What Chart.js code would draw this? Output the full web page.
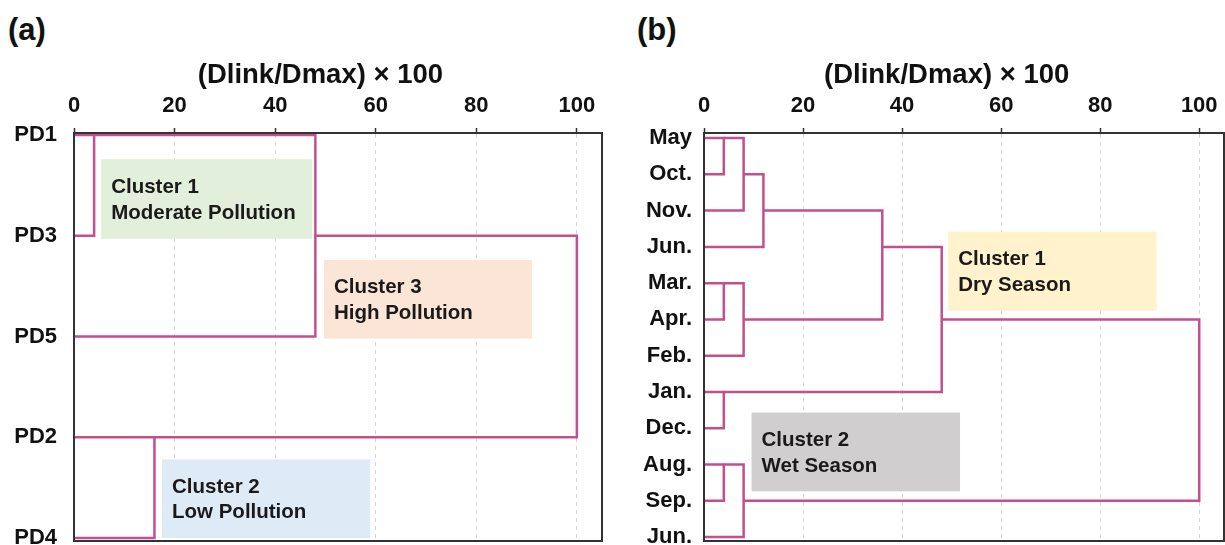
<!DOCTYPE html>
<html>
<head>
<meta charset="utf-8">
<script src="https://cdn.jsdelivr.net/npm/chart.js@4/dist/chart.umd.min.js"></script>
<style>
  html, body { margin: 0; padding: 0; background: #fff; }
  body { width: 1225px; height: 545px; position: relative; overflow: hidden; font-family: "Liberation Sans", Arial, sans-serif; }
  .panel { position: absolute; top: 0; }
  .panel canvas { display: block; }
  .tag { position: absolute; top: 12px; font: bold 31px "Liberation Sans", Arial, sans-serif; color: #111; }
</style>
</head>
<body>
<div class="tag" style="left:8px">(a)</div>
<div class="tag" style="left:637px">(b)</div>
<div class="panel" style="left:0"><canvas id="ca" width="612" height="545"></canvas></div>
<div class="panel" style="left:612px"><canvas id="cb" width="613" height="545"></canvas></div>
<script>
// ---- Panel (a): sampling sites ----
const sitesA = ['PD1', 'PD3', 'PD5', 'PD2', 'PD4'];
const linkHeightA = [4, 48, 16, 100];     // (Dlink/Dmax) x 100 at each merge
const linkTopRowA = [0, 0, 3, 1];
const linkBotRowA = [1, 2, 4, 3];
const linkTopFromA = [0, 4, 0, 48];       // height the upper arm starts from
const linkBotFromA = [0, 0, 0, 16];       // height the lower arm starts from

// ---- Panel (b): months ----
const monthsB = ['May', 'Oct.', 'Nov.', 'Jun.', 'Mar.', 'Apr.', 'Feb.', 'Jan.', 'Dec.', 'Aug.', 'Sep.', 'Jun.'];
const linkHeightB = [4, 8, 12, 4, 8, 36, 48, 4, 4, 8, 100];
const linkTopRowB = [0, 0, 1, 4, 4, 2, 3, 7, 9, 9, 5];
const linkBotRowB = [1, 2, 3, 5, 6, 5, 7, 8, 10, 11, 10];
const linkTopFromB = [0, 4, 8, 0, 4, 12, 36, 0, 0, 4, 48];
const linkBotFromB = [0, 0, 0, 0, 0, 8, 4, 0, 0, 0, 8];

const xTicks = [0, 20, 40, 60, 80, 100];
const axisTitle = '(Dlink/Dmax) × 100';

// Cluster label boxes (in axis units)
const boxesA = [
  { x0: 5.4, x1: 47.4, y0: 0.24, y1: 1.03, fill: '#E2EFDA', lines: ['Cluster 1', 'Moderate Pollution'] },
  { x0: 49.7, x1: 91.1, y0: 1.24, y1: 2.02, fill: '#FBE5D6', lines: ['Cluster 3', 'High Pollution'] },
  { x0: 17.5, x1: 58.9, y0: 3.22, y1: 4.0, fill: '#DEEBF7', lines: ['Cluster 2', 'Low Pollution'] }
];
const boxesB = [
  { x0: 49.3, x1: 91.4, y0: 2.58, y1: 4.76, fill: '#FFF2CC', lines: ['Cluster 1', 'Dry Season'] },
  { x0: 9.6, x1: 51.7, y0: 7.57, y1: 9.74, fill: '#D0CECE', lines: ['Cluster 2', 'Wet Season'] }
];

const LINK_COLOR = '#C2508F';
const FRAME_COLOR = '#333333';
const FONT = '"Liberation Sans", Arial, sans-serif';

function linkDatasets(h, topRow, botRow, topFrom, botFrom) {
  return h.map((v, i) => ({
    data: [
      { x: topFrom[i], y: topRow[i] },
      { x: v, y: topRow[i] },
      { x: v, y: botRow[i] },
      { x: botFrom[i], y: botRow[i] }
    ],
    showLine: true,
    borderColor: LINK_COLOR,
    borderWidth: 2.5,
    pointRadius: 0,
    fill: false,
    tension: 0,
    clip: false
  }));
}

// Draws the shaded cluster boxes under the links, the frame, and the axis title
const decor = {
  id: 'decor',
  beforeDatasetsDraw(chart, args, opts) {
    const { ctx, scales: { x, y } } = chart;
    ctx.save();
    opts.boxes.forEach(b => {
      const l = x.getPixelForValue(b.x0), r = x.getPixelForValue(b.x1);
      const t = y.getPixelForValue(b.y0), btm = y.getPixelForValue(b.y1);
      ctx.fillStyle = b.fill;
      ctx.fillRect(l, t, r - l, btm - t);
      ctx.fillStyle = '#1a1a1a';
      ctx.font = 'bold 20.5px ' + FONT;
      ctx.textBaseline = 'middle';
      ctx.textAlign = 'left';
      const hgt = btm - t;
      ctx.fillText(b.lines[0], l + 10, t + hgt * 0.35);
      ctx.fillText(b.lines[1], l + 10, t + hgt * 0.68);
    });
    ctx.restore();
  },
  afterDraw(chart, args, opts) {
    const { ctx, chartArea: a, scales: { x } } = chart;
    ctx.save();
    ctx.strokeStyle = FRAME_COLOR;
    ctx.lineWidth = 2;
    ctx.beginPath();
    ctx.moveTo(a.left, a.top);
    ctx.lineTo(a.right, a.top);
    ctx.lineTo(a.right, a.bottom);
    ctx.lineTo(a.left, a.bottom);
    ctx.closePath();
    ctx.stroke();
    ctx.fillStyle = '#111';
    ctx.font = 'bold 27.5px ' + FONT;
    ctx.textAlign = 'center';
    ctx.textBaseline = 'middle';
    ctx.fillText(axisTitle, x.getPixelForValue(49), 75);
    ctx.restore();
  }
};

function makeChart(id, labels, datasets, boxes, cfg) {
  return new Chart(document.getElementById(id), {
    type: 'scatter',
    data: { datasets },
    options: {
      responsive: false,
      maintainAspectRatio: false,
      devicePixelRatio: 1,
      animation: false,
      events: [],
      layout: { padding: { top: 0, right: cfg.padRight, bottom: 4, left: 0 } },
      plugins: {
        legend: { display: false },
        tooltip: { enabled: false },
        decor: { boxes }
      },
      scales: {
        x: {
          type: 'linear',
          position: 'top',
          min: 0,
          max: 105,
          afterBuildTicks: s => { s.ticks = xTicks.map(v => ({ value: v })); },
          afterFit: s => { s.height = 133; s.paddingLeft = 0; s.paddingRight = 0; },
          ticks: {
            color: '#111',
            padding: 9,
            font: { family: FONT, size: 22, weight: 'bold' }
          },
          grid: {
            color: '#d4d4d4',
            lineWidth: 1,
            drawTicks: true,
            tickLength: 5,
            tickColor: '#333',
            tickWidth: 1.5
          },
          border: { display: true, color: FRAME_COLOR, width: 2, dash: [4, 4] }
        },
        y: {
          type: 'linear',
          reverse: true,
          min: cfg.yMin,
          max: cfg.yMax,
          afterBuildTicks: s => { s.ticks = labels.map((_, i) => ({ value: i })); },
          afterFit: s => { s.width = cfg.yWidth; s.paddingTop = 0; s.paddingBottom = 0; },
          ticks: {
            color: '#111',
            padding: cfg.yPad,
            font: { family: FONT, size: 22, weight: 'bold' },
            callback: v => labels[v]
          },
          grid: { display: false, drawTicks: false },
          border: { display: true, color: FRAME_COLOR, width: 2 }
        }
      }
    },
    plugins: [decor]
  });
}

makeChart('ca', sitesA,
  linkDatasets(linkHeightA, linkTopRowA, linkBotRowA, linkTopFromA, linkBotFromA),
  boxesA, { padRight: 10, yMin: -0.02, yMax: 4.03, yWidth: 74, yPad: 17 });

makeChart('cb', monthsB,
  linkDatasets(linkHeightB, linkTopRowB, linkBotRowB, linkTopFromB, linkBotFromB),
  boxesB, { padRight: 1, yMin: -0.14, yMax: 11.11, yWidth: 92, yPad: 12 });
</script>
</body>
</html>
